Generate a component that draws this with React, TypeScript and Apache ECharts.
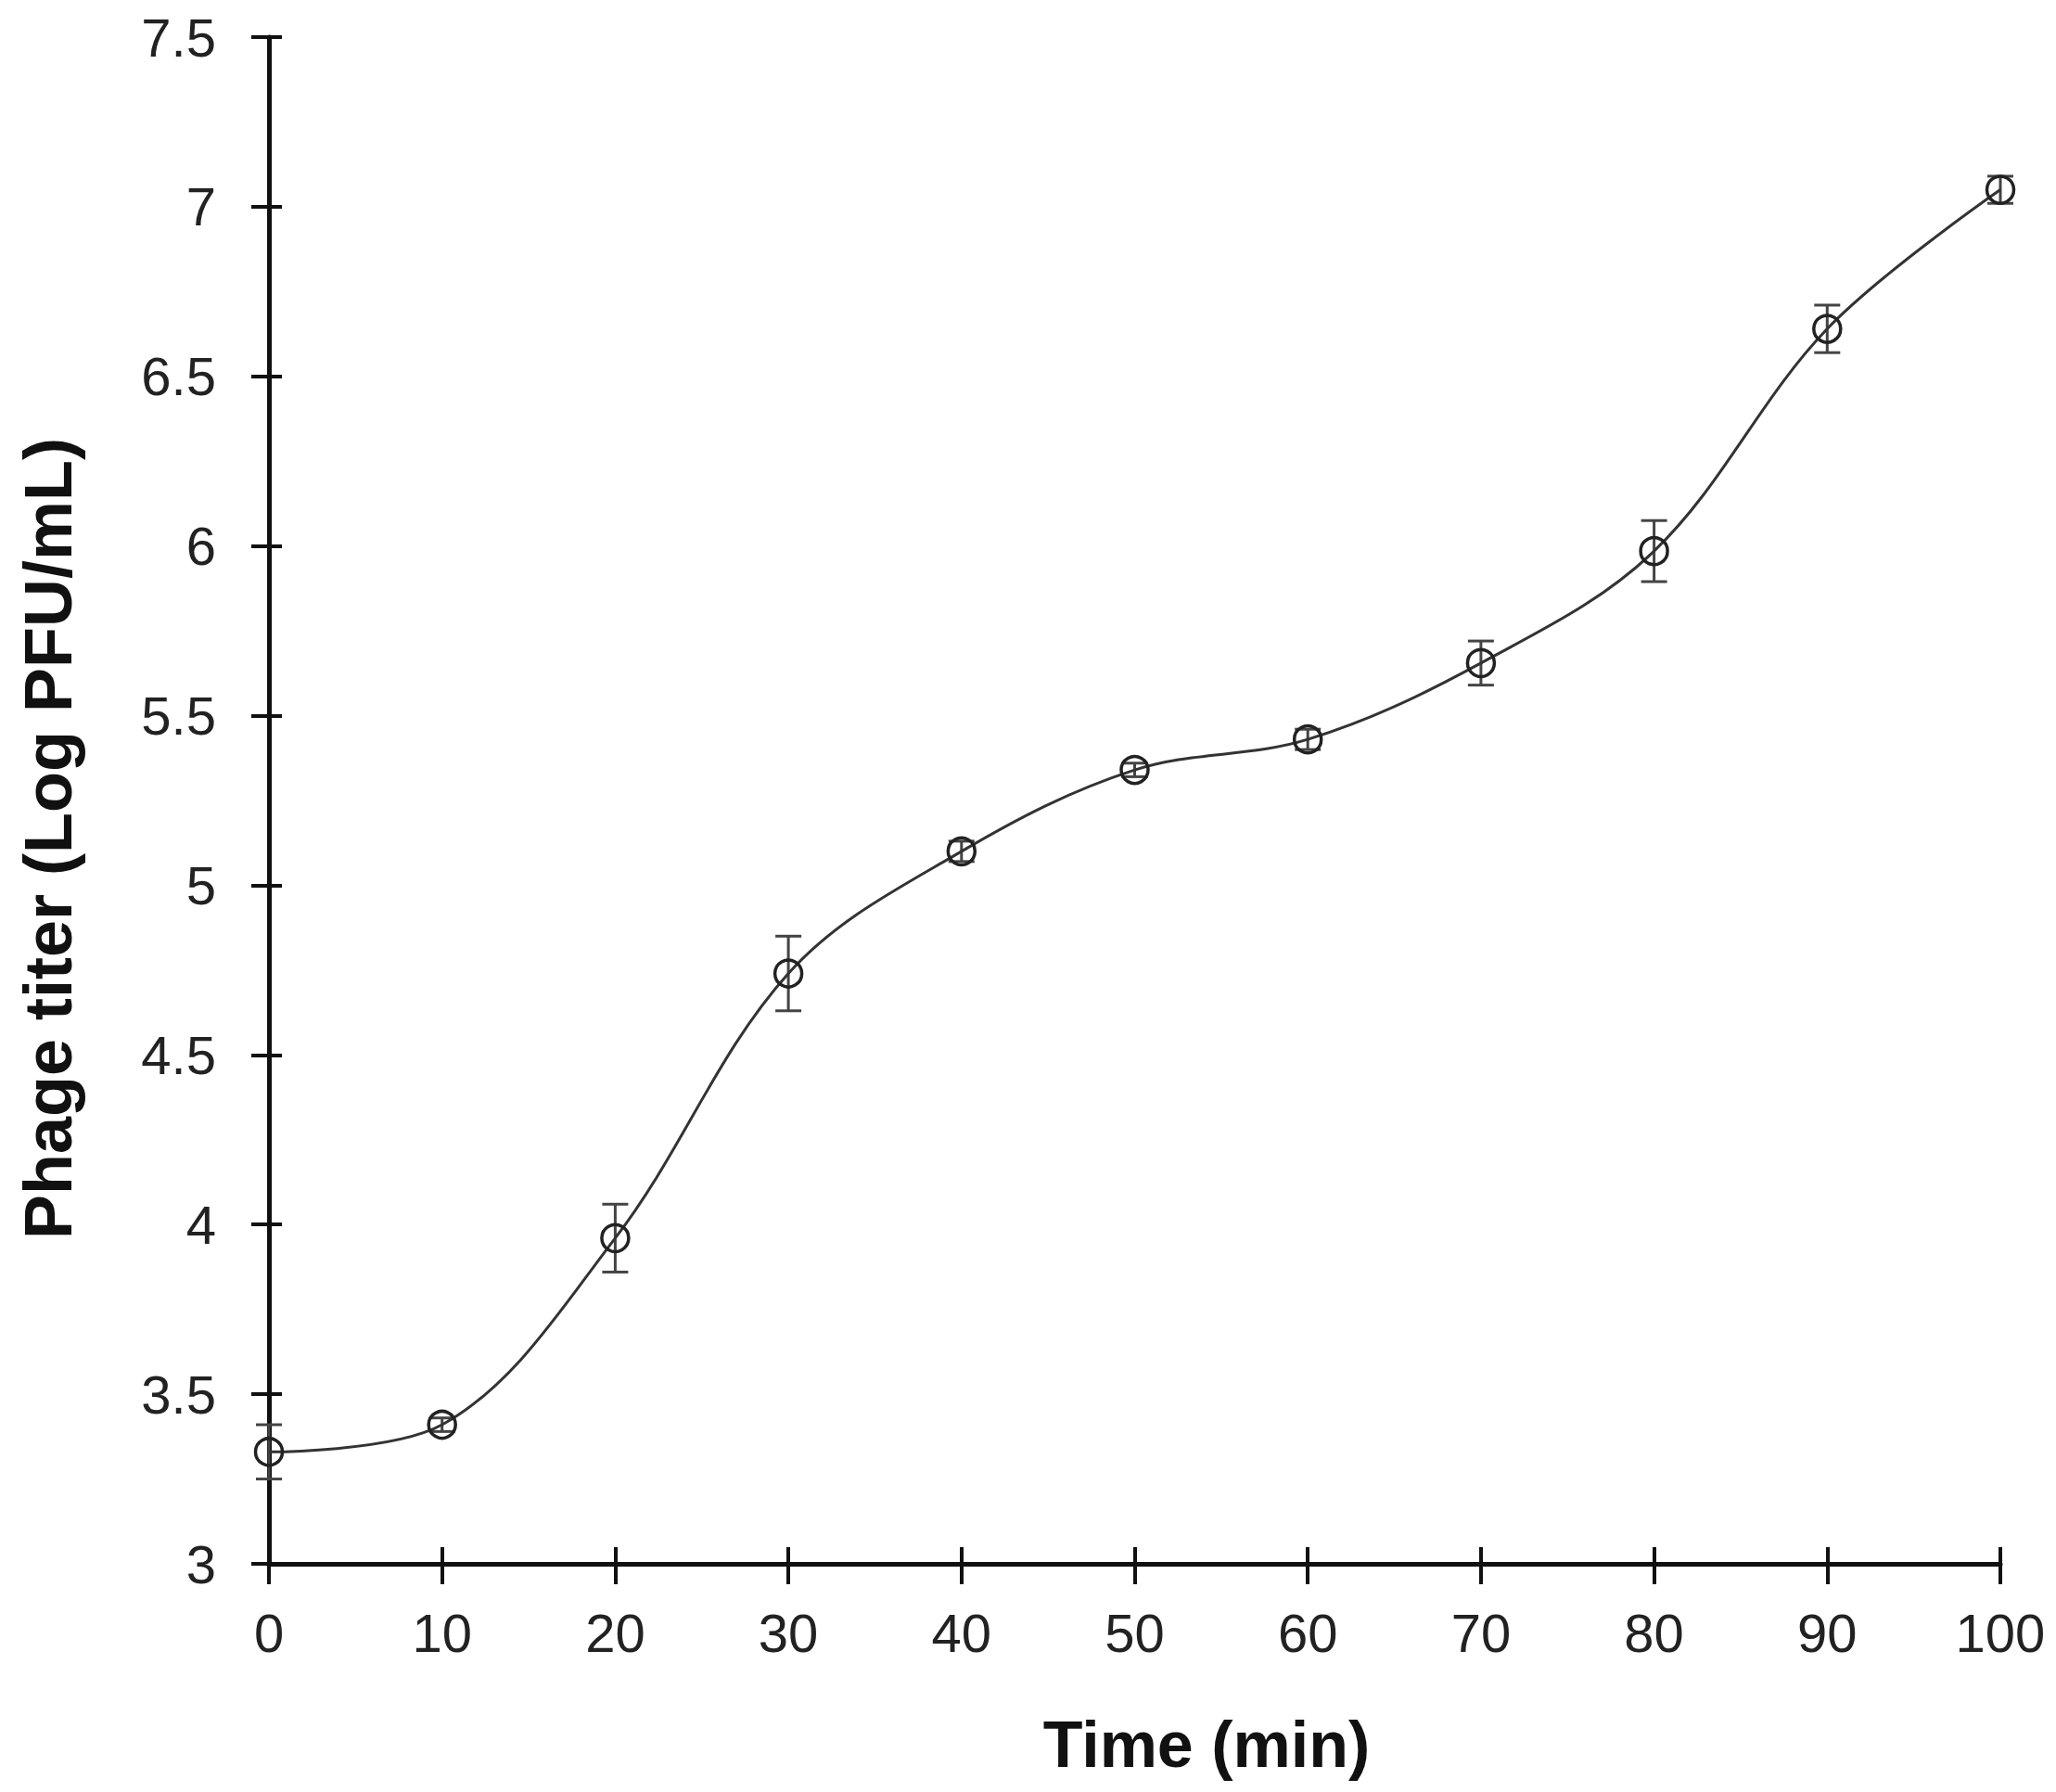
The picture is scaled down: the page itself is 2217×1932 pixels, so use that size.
import React, { useEffect, useRef } from "react";
import * as echarts from "echarts";

const timeMin = [0, 10, 20, 30, 40, 50, 60, 70, 80, 90, 100];
const titerLog = [3.33, 3.41, 3.96, 4.74, 5.10, 5.34, 5.43, 5.655, 5.985, 6.64, 7.05];
const errorSd = [0.08, 0.02, 0.10, 0.11, 0.03, 0.02, 0.03, 0.065, 0.09, 0.07, 0.04];
const xTitle = "Time (min)";
const yTitle = "Phage titer (Log PFU/mL)";

const FONT = "'Liberation Sans', Arial, sans-serif";

export default function App() {
  const ref = useRef<HTMLDivElement>(null);

  useEffect(() => {
    document.body.style.margin = "0";
    if (!ref.current) return;
    const chart = echarts.init(ref.current, undefined, { renderer: "svg" });

    const points = timeMin.map((t, i) => [t, titerLog[i]]);
    const errData = timeMin.map((t, i) => [t, titerLog[i] - errorSd[i], titerLog[i] + errorSd[i]]);

    const axisLine = { show: true, lineStyle: { color: "#111", width: 5 } };
    const labelStyle = { fontFamily: FONT, fontSize: 58, color: "#222" };
    const titleStyle = { fontFamily: FONT, fontSize: 70, fontWeight: "bold", fill: "#111" };

    chart.setOption({
      animation: false,
      backgroundColor: "#fff",
      grid: { left: 290, right: 60, top: 40, bottom: 246, containLabel: false },
      graphic: [
        {
          type: "text",
          x: 1301,
          y: 1881,
          style: { ...titleStyle, text: xTitle, align: "center", verticalAlign: "middle" },
        },
        {
          type: "text",
          x: 52,
          y: 904,
          rotation: Math.PI / 2,
          style: { ...titleStyle, fontSize: 72, text: yTitle, align: "center", verticalAlign: "middle" },
        },
      ],
      xAxis: [
        {
          type: "value",
          min: 0,
          max: 100,
          interval: 10,
          position: "bottom",
          axisLine,
          axisTick: { show: true, inside: false, length: 22, lineStyle: { color: "#111", width: 4 } },
          axisLabel: { ...labelStyle, margin: 45 },
          splitLine: { show: false },
        },
        {
          type: "value",
          min: 0,
          max: 100,
          interval: 10,
          position: "bottom",
          axisLine: { show: false },
          axisTick: { show: true, inside: true, length: 18, lineStyle: { color: "#111", width: 4 } },
          axisLabel: { show: false },
          splitLine: { show: false },
        },
      ],
      yAxis: [
        {
          type: "value",
          min: 3,
          max: 7.5,
          interval: 0.5,
          position: "left",
          axisLine,
          axisTick: { show: true, inside: false, length: 19, lineStyle: { color: "#111", width: 4 } },
          axisLabel: { ...labelStyle, margin: 57 },
          splitLine: { show: false },
        },
        {
          type: "value",
          min: 3,
          max: 7.5,
          interval: 0.5,
          position: "left",
          axisLine: { show: false },
          axisTick: { show: true, inside: true, length: 14, lineStyle: { color: "#111", width: 4 } },
          axisLabel: { show: false },
          splitLine: { show: false },
        },
      ],
      series: [
        {
          type: "custom",
          name: "error",
          xAxisIndex: 0,
          yAxisIndex: 0,
          z: 3,
          data: errData,
          renderItem: (params: any, api: any) => {
            const x = api.value(0);
            const lo = api.coord([x, api.value(1)]);
            const hi = api.coord([x, api.value(2)]);
            const hw = 14;
            const style = { stroke: "#444", lineWidth: 3 };
            return {
              type: "group",
              children: [
                { type: "line", shape: { x1: lo[0], y1: lo[1], x2: hi[0], y2: hi[1] }, style },
                { type: "line", shape: { x1: lo[0] - hw, y1: lo[1], x2: lo[0] + hw, y2: lo[1] }, style },
                { type: "line", shape: { x1: hi[0] - hw, y1: hi[1], x2: hi[0] + hw, y2: hi[1] }, style },
              ],
            };
          },
        },
        {
          type: "line",
          name: "titer",
          xAxisIndex: 0,
          yAxisIndex: 0,
          z: 4,
          data: points,
          smooth: 0.35,
          lineStyle: { color: "#333", width: 3 },
          symbol: "circle",
          symbolSize: 29,
          showSymbol: true,
          itemStyle: { color: "rgba(0,0,0,0)", borderColor: "#222", borderWidth: 3.5 },
        },
      ],
    });

    return () => chart.dispose();
  }, []);

  return <div ref={ref} style={{ width: 2217, height: 1932 }} />;
}
